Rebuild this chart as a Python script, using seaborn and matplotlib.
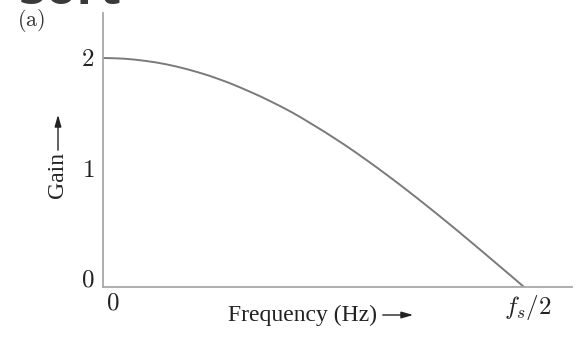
import matplotlib
matplotlib.use("Agg")
import matplotlib.pyplot as plt
import matplotlib.transforms as mtransforms
from matplotlib.patches import FancyArrowPatch
import seaborn as sns
import pandas as pd

# Normalised frequency (0 .. fs/2) and filter gain
freq = [0.000, 0.025, 0.050, 0.075, 0.100, 0.125, 0.150, 0.175, 0.200, 0.225,
        0.250, 0.275, 0.300, 0.325, 0.350, 0.375, 0.400, 0.425, 0.450, 0.475,
        0.500, 0.525, 0.550, 0.575, 0.600, 0.625, 0.650, 0.675, 0.700, 0.725,
        0.750, 0.775, 0.800, 0.825, 0.850, 0.875, 0.900, 0.925, 0.950, 0.975,
        1.000]
gain = [2.000, 1.998, 1.994, 1.986, 1.975, 1.962, 1.945, 1.925, 1.902, 1.876,
        1.848, 1.816, 1.782, 1.744, 1.704, 1.663, 1.618, 1.572, 1.523, 1.470,
        1.414, 1.358, 1.299, 1.239, 1.176, 1.111, 1.045, 0.977, 0.908, 0.837,
        0.765, 0.692, 0.618, 0.543, 0.467, 0.390, 0.313, 0.235, 0.157, 0.079,
        0.000]
ytick_vals = [0, 1, 2]
ytick_text = ["$0$", "$1$", "$2$"]
xtick_vals = [0, 1]
xtick_text = ["$0$", "$f_s/2$"]

sns.set_style("white")
plt.rcParams["font.family"] = ["Liberation Serif", "DejaVu Serif"]
plt.rcParams["mathtext.fontset"] = "cm"

W, H = 577, 337
fig = plt.figure(figsize=(W / 100, H / 100), dpi=100)
ax = fig.add_axes([103 / W, 1 - 287 / H, (572 - 103) / W, (287 - 13) / H])

df = pd.DataFrame({"freq": freq, "gain": gain})
sns.lineplot(data=df, x="freq", y="gain", ax=ax, color="#7a7a7a", linewidth=1.4)

ax.set_xlim(0, 1.114)
ax.set_ylim(0, 2.393)
for side in ("top", "right"):
    ax.spines[side].set_visible(False)
for side in ("left", "bottom"):
    ax.spines[side].set_color("#a8a8a8")
    ax.spines[side].set_linewidth(1.3)

ax.set_xlabel("")
ax.set_ylabel("")
ax.set_yticks(ytick_vals)
ax.set_yticklabels(ytick_text, fontsize=18, color="#222222")
ax.set_xticks(xtick_vals)
ax.set_xticklabels(xtick_text, fontsize=18, color="#222222")
ax.tick_params(axis="both", length=0)
ax.tick_params(axis="y", pad=6)
ax.tick_params(axis="x", pad=4)

# nudge individual tick labels
ydy = [9, 4, 0]
for lab, dy in zip(ax.get_yticklabels(), ydy):
    lab.set_transform(lab.get_transform() +
                      mtransforms.ScaledTranslation(0, dy / 100, fig.dpi_scale_trans))
xdx = [10, 4]
for lab, dx in zip(ax.get_xticklabels(), xdx):
    lab.set_transform(lab.get_transform() +
                      mtransforms.ScaledTranslation(dx / 100, 0, fig.dpi_scale_trans))


def fx(px):
    return px / W


def fy(py):
    return 1 - py / H


# axis captions with arrows
fig.text(fx(58), fy(175), "Gain", rotation=90, ha="center", va="center",
         fontsize=17, color="#222222")
fig.add_artist(FancyArrowPatch(
    (fx(58), fy(153)), (fx(58), fy(112)), transform=fig.transFigure,
    arrowstyle="-|>,head_length=0.35,head_width=0.1", color="#222222",
    linewidth=1.0, mutation_scale=20))
fig.text(fx(303), fy(315), "Frequency (Hz)", ha="center", va="center",
         fontsize=17, color="#222222")
fig.add_artist(FancyArrowPatch(
    (fx(380), fy(315)), (fx(416), fy(315)), transform=fig.transFigure,
    arrowstyle="-|>,head_length=0.35,head_width=0.1", color="#222222",
    linewidth=1.0, mutation_scale=20))

fig.text(fx(31), fy(21), r"$(\mathrm{a})$", ha="center", va="center",
         fontsize=16, color="#333333")
fig.text(fx(19), fy(4), "Sort", ha="left", va="baseline", fontsize=36,
         fontweight="bold", color="#3a3a3a", family=["Open Sans", "DejaVu Sans"])

fig.savefig("out.png", dpi=100)
